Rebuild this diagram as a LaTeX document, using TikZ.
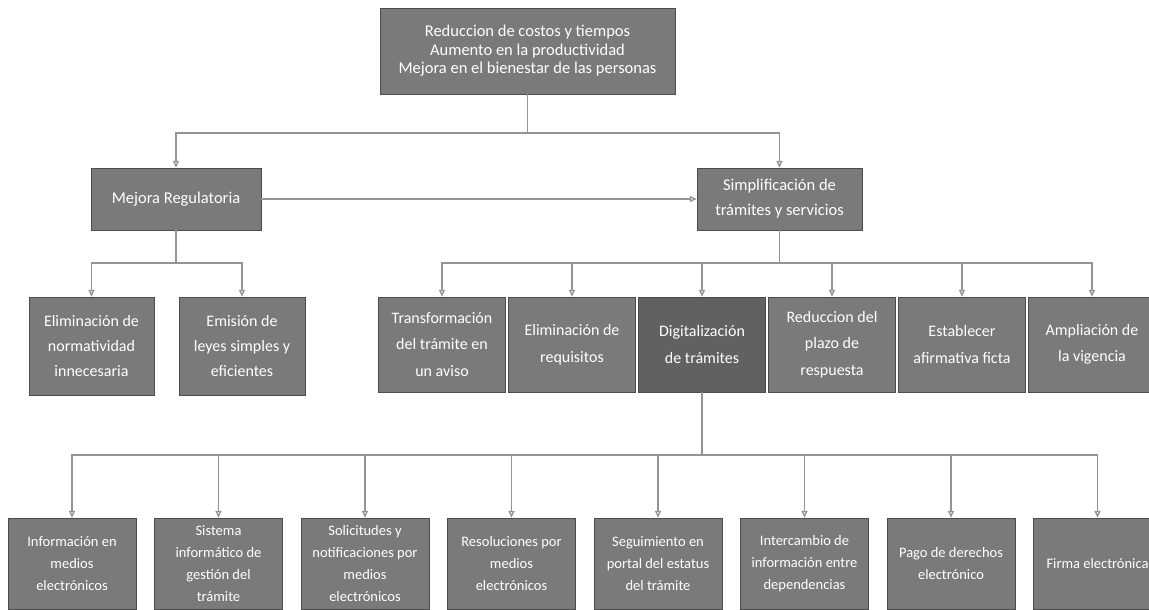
\documentclass[tikz,border=0pt]{standalone}
\usepackage{fontspec}
\setmainfont{Carlito}
\usetikzlibrary{arrows.meta}
\begin{document}
\begin{tikzpicture}[x=1pt,y=-1pt,
                    box/.style = {draw=black!70,fill=black!52,text=white,align=center,inner sep=0pt},
                    metabox/.style = {box,minimum width=295pt,minimum height=86pt,font=\fontsize{16.5}{18.5}\selectfont},
                    mainbox/.style = {box,minimum height=62pt,font=\fontsize{16.5}{25}\selectfont},
                    subbox/.style = {box,minimum width=127pt,minimum height=95pt,font=\fontsize{16}{26.5}\selectfont},
                    leafbox/.style = {box,minimum width=128pt,minimum height=91pt,font=\fontsize{14.5}{22}\selectfont},
                    arrow/.style = {draw=black!42,line width=1.4pt,-{Triangle[open,length=7pt,width=6pt]}}]
                    \useasboundingbox (0,0) rectangle (1149,610);
                    
                    \node[metabox] (meta) at (527.5,51) {Reduccion de costos y tiempos\\Aumento en la productividad\\Mejora en el bienestar de las personas};
                    
                    \node[mainbox,minimum width=170pt] (mejora) at (176,199) {Mejora Regulatoria};
                    \node[mainbox,minimum width=165pt] (simpl) at (779.5,199) {Simplificación de\\trámites y servicios};
                    
                    \node[box,minimum width=125pt,minimum height=98pt,font=\fontsize{16}{25}\selectfont] (normas) at (91.5,346) {Eliminación de\\normatividad\\innecesaria};
                    \node[box,minimum width=126pt,minimum height=98pt,font=\fontsize{16}{25}\selectfont] (leyes) at (242,346) {Emisión de\\leyes simples y\\eficientes};
                    
                    \node[subbox] (aviso) at (442,344.5) {Transformación\\del trámite en\\un aviso};
                    \node[subbox] (requisitos) at (572,344.5) {Eliminación de\\requisitos};
                    \node[subbox,fill=black!62] (digital) at (702,344.5) {Digitalización\\de trámites};
                    \node[subbox] (plazo) at (832,344.5) {Reduccion del\\plazo de\\respuesta};
                    \node[subbox] (ficta) at (962,344.5) {Establecer\\afirmativa ficta};
                    \node[subbox] (vigencia) at (1092,344.5) {Ampliación de\\la vigencia};
                    
                    \node[leafbox] (info) at (72,563.5) {Información en\\medios\\electrónicos};
                    \node[leafbox] (sistema) at (218.5,563.5) {Sistema\\informático de\\gestión del\\trámite};
                    \node[leafbox] (solicitudes) at (365,563.5) {Solicitudes y\\notificaciones por\\medios\\electrónicos};
                    \node[leafbox] (resoluciones) at (511.5,563.5) {Resoluciones por\\medios\\electrónicos};
                    \node[leafbox] (seguimiento) at (658,563.5) {Seguimiento en\\portal del estatus\\del trámite};
                    \node[leafbox] (intercambio) at (804.5,563.5) {Intercambio de\\información entre\\dependencias};
                    \node[leafbox] (pago) at (951,563.5) {Pago de derechos\\electrónico};
                    \node[leafbox] (firma) at (1097.5,563.5) {Firma electrónica};
                    
                    \coordinate (busA) at (0,133);
                    \coordinate (busB) at (0,263);
                    \coordinate (busC) at (0,455);
                    
                    \foreach \n in {mejora,simpl}
                        \draw[arrow] (meta.south) -- (meta.south |- busA) -| (\n.north);
                    \draw[arrow] (mejora.east) -- (simpl.west);
                    \foreach \n in {normas,leyes}
                        \draw[arrow] (mejora.south) -- (mejora.south |- busB) -| (\n.north);
                    \foreach \n in {aviso,requisitos,digital,plazo,ficta,vigencia}
                        \draw[arrow] (simpl.south) -- (simpl.south |- busB) -| (\n.north);
                    \foreach \n in {info,sistema,solicitudes,resoluciones,seguimiento,intercambio,pago,firma}
                        \draw[arrow] (digital.south) -- (digital.south |- busC) -| (\n.north);
                \end{tikzpicture}
\end{document}
